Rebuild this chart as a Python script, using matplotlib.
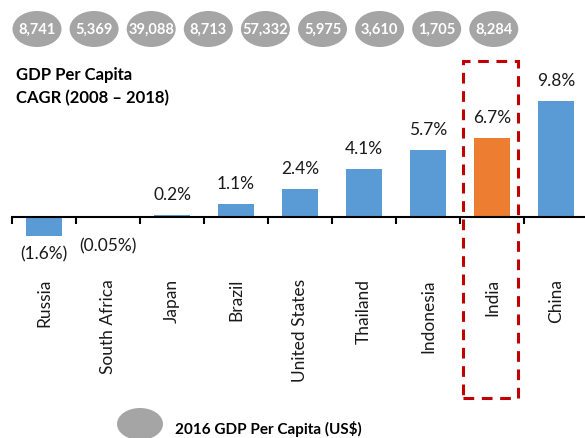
import matplotlib
matplotlib.use("Agg")
import matplotlib.pyplot as plt
from matplotlib.patches import Ellipse, Rectangle

plt.rcParams['font.family'] = ['Lato', 'DejaVu Sans']

# data
countries = ["Russia", "South Africa", "Japan", "Brazil", "United States",
             "Thailand", "Indonesia", "India", "China"]
cagr = [-1.6, -0.05, 0.2, 1.1, 2.4, 4.1, 5.7, 6.7, 9.8]
cagr_labels = ["(1.6%)", "(0.05%)", "0.2%", "1.1%", "2.4%", "4.1%", "5.7%", "6.7%", "9.8%"]
gdp_2016 = ["8,741", "5,369", "39,088", "8,713", "57,332", "5,975", "3,610", "1,705", "8,284"]
highlight = "India"

W, H = 585, 439
fig = plt.figure(figsize=(W / 100, H / 100), dpi=100)

def fx(x):
    return x / W

def fy(y):
    return 1 - y / H

# main axes: zero line at y=218px, ~11.8 px per percent
top_px, bot_px = 40, 270
ax = fig.add_axes([fx(12), fy(bot_px), fx(W - 12), (bot_px - top_px) / H])
ax.set_xlim(-0.5, 8.45)
ax.set_ylim(-(bot_px - 218) / 11.8, (218 - top_px) / 11.8)

blue = "#5B9BD5"
orange = "#ED7D31"
colors = [orange if c == highlight else blue for c in countries]
x = list(range(len(countries)))
ax.bar(x, cagr, width=0.56, color=colors, zorder=2)

neg_off = {0: 7, 1: 14}
for i, (v, lab) in enumerate(zip(cagr, cagr_labels)):
    if v >= 0:
        ax.annotate(lab, (i, v), xytext=(0, 11.5), textcoords="offset points",
                    ha="center", va="baseline", fontsize=12.5, color="#1a1a1a")
    else:
        ax.annotate(lab, (i, v), xytext=(0, -neg_off.get(i, 7)), textcoords="offset points",
                    ha="center", va="top", fontsize=12.5, color="#1a1a1a")

for s in ["top", "right", "left"]:
    ax.spines[s].set_visible(False)
ax.spines["bottom"].set_position(("data", 0))
ax.spines["bottom"].set_linewidth(1.5)
ax.spines["bottom"].set_color("black")
ax.set_yticks([])
ax.set_xticks(x)
ax.set_xticklabels(countries, rotation=90, fontsize=12.5, color="#1a1a1a")
ax.tick_params(axis="x", which="major", length=0, pad=44)
ax.set_xticks([i - 0.5 for i in range(9)], minor=True)
ax.tick_params(axis="x", which="minor", length=5, width=1.5, direction="out", color="black")

# highlight box around India
idx = countries.index(highlight)
box = Rectangle((idx - 0.45, -(399 - 218) / 11.8), 0.86, (399 - 62) / 11.8,
                fill=False, edgecolor="#C00000", linewidth=2.2,
                linestyle=(0, (3.5, 2.5)), clip_on=False, zorder=3)
ax.add_patch(box)

# title
fig.text(fx(16), fy(75), "GDP Per Capita", fontsize=12, fontweight="bold",
         ha="left", va="center")
fig.text(fx(16), fy(98), "CAGR (2008 \u2013 2018)", fontsize=12, fontweight="bold",
         ha="left", va="center")

# 2016 GDP per capita bubbles
grey = "#A5A5A5"
for i, val in enumerate(gdp_2016):
    cx = 37 + i * 57.1
    fig.add_artist(Ellipse((fx(cx), fy(30)), 49 / W, 36 / H, transform=fig.transFigure,
                           facecolor=grey, edgecolor="none"))
    fig.text(fx(cx), fy(30), val, color="white", fontsize=10.5, fontweight="bold",
             ha="center", va="center")

# legend
fig.add_artist(Ellipse((fx(140), fy(425)), 46 / W, 32 / H, transform=fig.transFigure,
                       facecolor=grey, edgecolor="none"))
fig.text(fx(175), fy(429), "2016 GDP Per Capita (US$)", fontsize=11, fontweight="bold",
         ha="left", va="center")

fig.savefig("out.png", dpi=100)
